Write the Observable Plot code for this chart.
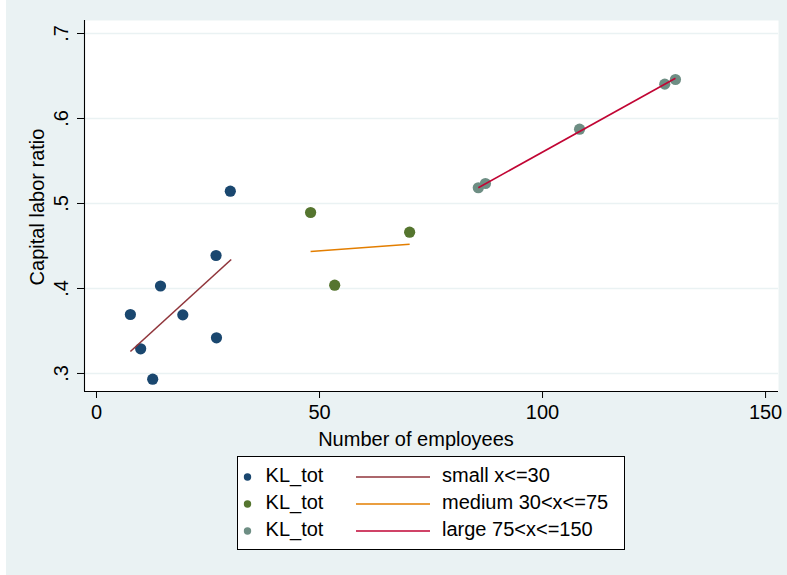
<!DOCTYPE html>
<html><head><meta charset="utf-8">
<script src="https://cdn.jsdelivr.net/npm/d3@7"></script>
<script src="https://cdn.jsdelivr.net/npm/@observablehq/plot@0.6"></script>
<style>
body{margin:0;background:#fff;}
#wrap{position:relative;width:787px;height:575px;background:linear-gradient(to right,#fff 6px,#eaf2f3 6px);font-family:"Liberation Sans",Arial,sans-serif;overflow:hidden;}
#chart svg{display:block;}
#legend{position:absolute;left:237px;top:456px;width:388px;height:94px;box-sizing:border-box;border:1px solid #000;background:#fff;}
#legend svg{display:block;}
</style></head><body>
<div id="wrap"><div id="chart"></div><div id="legend"></div></div>
<script>
// ---- data ----
const groups = ["small", "medium", "large"];
const dotColors = ["#1a476f", "#55752f", "#6e8e84"];
const lineColors = ["#90353b", "#e37e00", "#c10534"];

const smallX = [7.6, 9.9, 12.6, 14.35, 19.35, 26.8, 26.9, 30.0];
const smallY = [0.3694, 0.329, 0.2933, 0.4029, 0.369, 0.4388, 0.342, 0.5145];
const mediumX = [48.0, 53.4, 70.2];
const mediumY = [0.4894, 0.4039, 0.4662];
const largeX = [85.6, 87.2, 108.3, 127.4, 129.8];
const largeY = [0.5185, 0.5235, 0.5874, 0.6404, 0.6459];

// fitted line end points
const fitX1 = [7.6, 48.0, 85.6];
const fitY1 = [0.3259, 0.4435, 0.5185];
const fitX2 = [30.2, 70.2, 129.8];
const fitY2 = [0.4341, 0.4521, 0.6474];

const xTicks = [0, 50, 100, 150];
const xTickLabels = ["0", "50", "100", "150"];
const yTicks = [0.3, 0.4, 0.5, 0.6, 0.7];
const yTickLabels = [".3", ".4", ".5", ".6", ".7"];
const xDomain = [-2.69, 152.9];
const yDomain = [0.2788, 0.7153];

const xTitle = "Number of employees";
const yTitle = "Capital labor ratio";
const legendDotLabels = ["KL_tot", "KL_tot", "KL_tot"];
const legendLineLabels = ["small x<=30", "medium 30<x<=75", "large 75<x<=150"];

// ---- build tables ----
const seriesX = [smallX, mediumX, largeX];
const seriesY = [smallY, mediumY, largeY];
const points = [];
groups.forEach((g, gi) => seriesX[gi].forEach((x, i) => points.push({group: g, x, y: seriesY[gi][i], color: dotColors[gi]})));
const fits = groups.map((g, i) => ({group: g, x1: fitX1[i], y1: fitY1[i], x2: fitX2[i], y2: fitY2[i], color: lineColors[i]}));

const font = "Liberation Sans, Arial, sans-serif";

const chart = Plot.plot({
  width: 787,
  height: 440,
  marginLeft: 84,
  marginRight: 9,
  marginTop: 20,
  marginBottom: 49,
  x: {domain: xDomain},
  y: {domain: yDomain},
  style: {background: "transparent", fontFamily: font, fontSize: "20px", color: "#000", overflow: "visible"},
  marks: [
    Plot.frame({fill: "#fff", stroke: null}),
    Plot.gridY(yTicks, {stroke: "#eaf2f3", strokeOpacity: 1, strokeWidth: 1.6}),
    Plot.ruleX([xDomain[0]], {stroke: "#000", strokeWidth: 1.1}),
    Plot.ruleY([yDomain[0]], {stroke: "#000", strokeWidth: 1.1}),
    Plot.axisX({ticks: xTicks, tickFormat: (d) => xTickLabels[xTicks.indexOf(d)], tickSize: 7, tickPadding: 6, label: null, stroke: "#000", fill: "#000"}),
    Plot.axisY({ticks: yTicks, tickFormat: () => "", tickSize: 7, label: null, stroke: "#000"}),
    Plot.text(yTicks, {y: d => d, text: (d, i) => yTickLabels[i], frameAnchor: "left", dx: -17, rotate: -90, lineAnchor: "bottom", textAnchor: "middle", fill: "#000"}),
    Plot.text([xTitle], {text: d => d, frameAnchor: "bottom", dx: -15.5, dy: 54, lineAnchor: "bottom", textAnchor: "middle", fill: "#000"}),
    Plot.text([yTitle], {text: d => d, frameAnchor: "left", dx: -40.5, dy: 1, rotate: -90, lineAnchor: "bottom", textAnchor: "middle", fill: "#000"}),
    Plot.dot(points, {x: "x", y: "y", fill: "color", r: 5.6, stroke: null}),
    Plot.link(fits, {x1: "x1", y1: "y1", x2: "x2", y2: "y2", stroke: "color", strokeWidth: 1.6})
  ]
});
document.getElementById("chart").append(chart);

// ---- legend (HTML/SVG below the plot) ----
const lsvg = d3.select("#legend").append("svg").attr("width", 386).attr("height", 92)
  .style("font-family", font).style("font-size", "20px");
groups.forEach((g, i) => {
  const cy = 20 + i * 27;
  lsvg.append("circle").attr("cx", 9.5).attr("cy", cy).attr("r", 3.7).attr("fill", dotColors[i]);
  lsvg.append("text").attr("x", 27.6).attr("y", cy + 4.7).attr("fill", "#000").text(legendDotLabels[i]);
  lsvg.append("line").attr("x1", 118).attr("x2", 192).attr("y1", cy).attr("y2", cy)
    .attr("stroke", lineColors[i]).attr("stroke-width", 1.6);
  lsvg.append("text").attr("x", 204).attr("y", cy + 4.7).attr("fill", "#000").text(legendLineLabels[i]);
});
</script>
</body></html>
